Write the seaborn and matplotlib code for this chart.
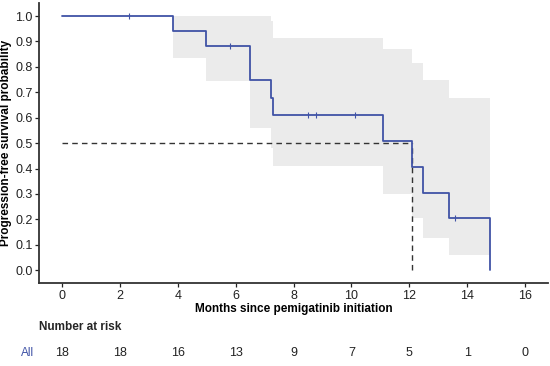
"""Curva de Kaplan-Meier da sobrevida livre de progressão com tabela de risco"""

import numpy as np
import seaborn as sns
import matplotlib.pyplot as plt
from matplotlib import transforms

sns.set_theme(style="ticks")
plt.rcParams["font.family"] = ["Liberation Sans", "DejaVu Sans"]

# Degraus da curva (meses, probabilidade)
times = [0, 3.82, 4.95, 6.5, 7.2, 7.29, 11.1, 12.08, 12.46, 13.36, 14.78]
surv = [1.0, 0.941, 0.882, 0.747, 0.679, 0.611, 0.509, 0.407, 0.305, 0.204, 0.0]
ci_upper = [1.0, 1.0, 1.0, 1.0, 0.98, 0.915, 0.869, 0.814, 0.747, 0.676, 0.676]
ci_lower = [1.0, 0.836, 0.744, 0.561, 0.48, 0.41, 0.30, 0.205, 0.125, 0.059, 0.059]

# Censuras
censor_times = [2.3, 5.79, 8.49, 8.78, 10.13, 13.59]
censor_surv = [1.0, 0.882, 0.611, 0.611, 0.611, 0.204]

median_time = 12.08
median_level = 0.5

# Tabela de risco
risk_times = [0, 2, 4, 6, 8, 10, 12, 14, 16]
risk_counts = [18, 18, 16, 13, 9, 7, 5, 1, 0]

LINE_COLOR = "#4053A6"
TEXT_COLOR = "#222222"


def main():
    """Desenha a curva e salva em out.png"""
    fig = plt.figure(figsize=(5.5, 3.66), dpi=100)
    ax = fig.add_axes([0.0715, 0.2268, 0.9249, 0.7642])

    ax.fill_between(
        times, ci_lower, ci_upper, step="post", color="#EBEBEB", linewidth=0
    )

    ax.hlines(median_level, 0, median_time, colors="#333333", linestyles=(0, (4, 3)), linewidth=1)
    ax.vlines(median_time, 0, median_level, colors="#333333", linestyles=(0, (4, 3)), linewidth=1)

    sns.lineplot(
        x=times,
        y=surv,
        drawstyle="steps-post",
        color=LINE_COLOR,
        linewidth=1.3,
        sort=False,
        ax=ax,
    )
    sns.scatterplot(
        x=censor_times,
        y=censor_surv,
        marker="|",
        s=25,
        color=LINE_COLOR,
        linewidth=0.8,
        ax=ax,
    )

    ax.set_xlim(-0.8, 16.8)
    ax.set_ylim(-0.05, 1.05)
    ax.set_xticks(risk_times)
    ax.set_yticks(np.arange(0, 1.01, 0.1))
    ax.set_yticklabels([f"{v:.1f}" for v in np.arange(0, 1.01, 0.1)])
    ax.tick_params(labelsize=9, colors=TEXT_COLOR, length=3, width=0.9, pad=2)
    for side in ["left", "bottom"]:
        ax.spines[side].set_linewidth(1.3)
        ax.spines[side].set_color("#333333")
    sns.despine(ax=ax)

    ax.set_xlabel(
        "Months since pemigatinib initiation", fontsize=8.5, fontweight="bold",
        color="black", labelpad=1
    )
    ax.set_ylabel(
        "Progression-free survival probability", fontsize=8.5, fontweight="bold",
        color="black", labelpad=2
    )

    # Tabela de risco abaixo do gráfico
    trans = transforms.blended_transform_factory(ax.transData, fig.transFigure)
    fig.text(39 / 550, 1 - 327 / 366, "Number at risk", fontsize=8.5,
             fontweight="bold", va="center", ha="left")
    fig.text(28 / 550, 1 - 353 / 366, "All", fontsize=8.5, color=LINE_COLOR,
             va="center", ha="center")
    for t, n in zip(risk_times, risk_counts):
        ax.text(t, 1 - 353 / 366, str(n), transform=trans, fontsize=9,
                color=TEXT_COLOR, va="center", ha="center")

    plt.savefig("out.png", dpi=100)


if __name__ == "__main__":
    main()
